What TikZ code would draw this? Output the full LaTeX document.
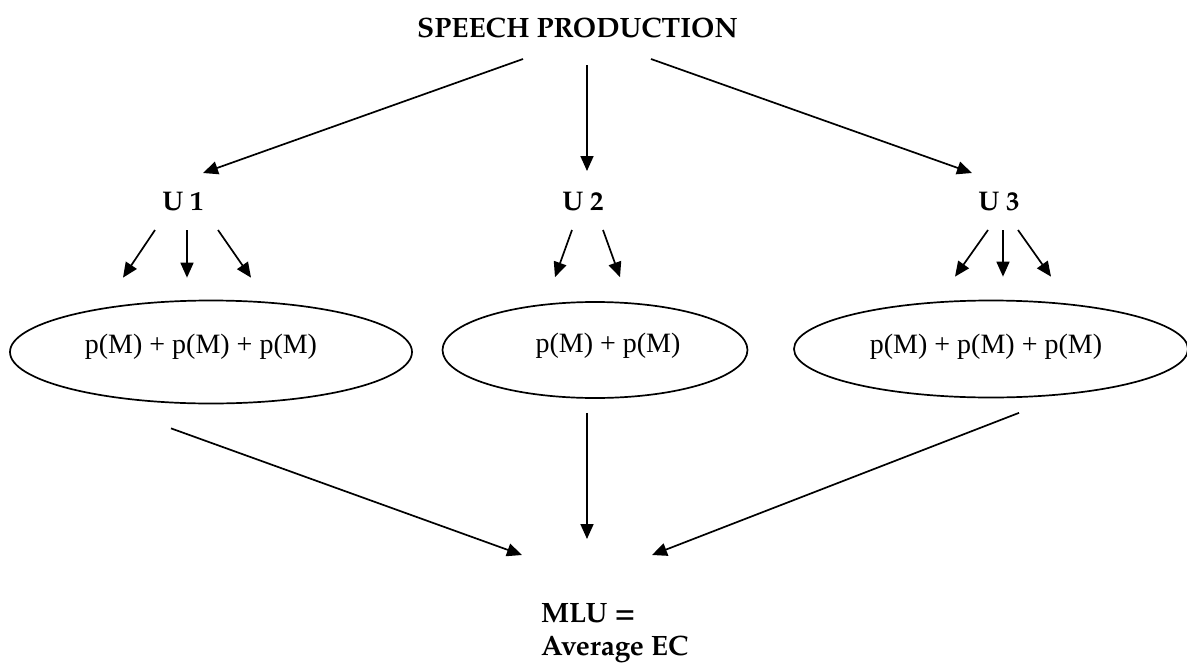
\documentclass[tikz,border=0pt]{standalone}
\usepackage{fontspec}
\setmainfont{Liberation Serif}
\newfontfamily\pal{texgyrepagella}[Extension=.otf, UprightFont=*-regular, BoldFont=*-bold]
\usetikzlibrary{arrows.meta,shapes.geometric}
\newcommand\placetxt[3]{\raisebox{#2}[0pt][0pt]{\makebox[0pt]{\hspace*{#1}#3}}}
\begin{document}
\begin{tikzpicture}[x=1pt,y=-1pt,
  lbl/.style={inner sep=0pt,font=\pal\bfseries\fontsize{28}{35}\selectfont},
  ulbl/.style={inner sep=0pt,font=\pal\bfseries\fontsize{27}{35}\selectfont},
  mlbl/.style={inner sep=0pt,font=\pal\bfseries\fontsize{28}{33}\selectfont},
  oval/.style={draw,line width=1.7pt,ellipse,inner sep=0pt,font=\fontsize{28}{32}\selectfont},
  arr/.style={line width=1.7pt,-{Triangle[length=15pt,width=13pt]}}]
\useasboundingbox (0,0) rectangle (1187,664);
% text nodes
\node[lbl,anchor=base] (sp) at (577.5,37) {SPEECH PRODUCTION};
\node[ulbl,anchor=base] (u1) at (183,210) {U 1};
\node[ulbl,anchor=base] (u2) at (583,210) {U 2};
\node[ulbl,anchor=base] (u3) at (999,210) {U 3};
\node[oval,minimum width=402pt,minimum height=103pt] (e1) at (211,352) {\placetxt{-20pt}{-1pt}{p(M) + p(M) + p(M)}};
\node[oval,minimum width=305pt,minimum height=96pt] (e2) at (595,350) {\placetxt{26pt}{-2pt}{p(M) + p(M)}};
\node[oval,minimum width=394pt,minimum height=97pt] (e3) at (991,349) {\placetxt{-10pt}{-4pt}{p(M) + p(M) + p(M)}};
\node[mlbl,anchor=north west,align=left] (mlu) at (541,603) {MLU =\\Average EC};
% top arrows
\draw[arr] ([shift={(-54.5,22)}]sp.base) -- ([shift={(20,-37)}]u1.base);
\draw[arr] ([shift={(9.5,28)}]sp.base) -- ([shift={(4,-39)}]u2.base);
\draw[arr] ([shift={(73.5,22)}]sp.base) -- ([shift={(-27,-37)}]u3.base);
% U1 arrows
\draw[arr] ([shift={(-28,20)}]u1.base) -- ([shift={(-88,-22)}]e1.north);
\draw[arr] ([shift={(4,20)}]u1.base) -- ([shift={(-24,-22)}]e1.north);
\draw[arr] ([shift={(35,20)}]u1.base) -- ([shift={(40,-22)}]e1.north);
% U2 arrows
\draw[arr] ([shift={(-11,20)}]u2.base) -- ([shift={(-40,-24)}]e2.north);
\draw[arr] ([shift={(20,20)}]u2.base) -- ([shift={(25,-24)}]e2.north);
% U3 arrows
\draw[arr] ([shift={(-11,20)}]u3.base) -- ([shift={(-36,-23)}]e3.north);
\draw[arr] ([shift={(4,20)}]u3.base) -- ([shift={(12,-23)}]e3.north);
\draw[arr] ([shift={(19,20)}]u3.base) -- ([shift={(60,-23)}]e3.north);
% bottom arrows
\draw[arr] ([shift={(-40,24)}]e1.south) -- ([shift={(-19,-48)}]mlu.north west);
\draw[arr] ([shift={(-8,14)}]e2.south) -- ([shift={(46,-64)}]mlu.north west);
\draw[arr] ([shift={(28,14.5)}]e3.south) -- ([shift={(111,-48)}]mlu.north west);
\end{tikzpicture}
\end{document}
